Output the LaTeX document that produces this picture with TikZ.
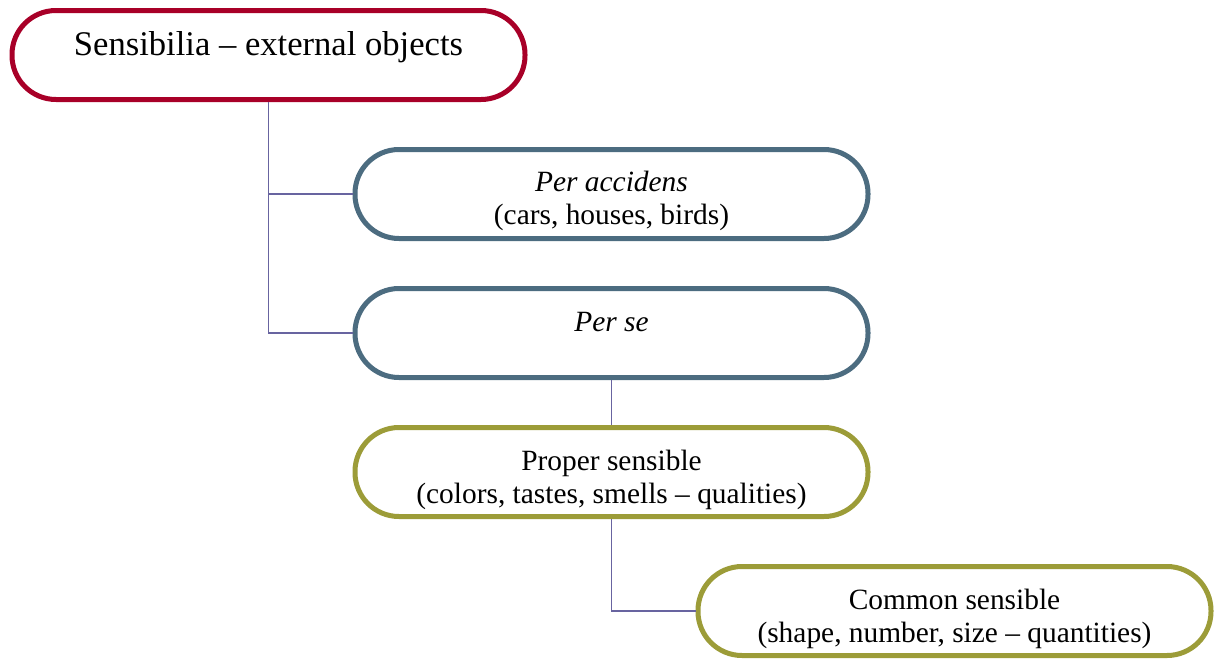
\documentclass[tikz,border=0pt]{standalone}
\usepackage{fontspec}
\setmainfont{Liberation Serif}
\usetikzlibrary{positioning}

\definecolor{sensred}{RGB}{168,0,40}
\definecolor{perblue}{RGB}{76,108,128}
\definecolor{sensolive}{RGB}{156,156,56}
\definecolor{linkviolet}{RGB}{104,100,160}

\begin{document}
\begin{tikzpicture}[x=0.5pt, y=-0.5pt,
                          node distance=22.5pt,
                          pillnode/.style={rectangle, draw, rounded corners=22pt, line width=2.5pt, minimum width=256.5pt, minimum height=44.5pt, fill=white, align=center, font={\fontsize{14.7}{16.5}\selectfont}},
                          topnode/.style={pillnode, draw=sensred, font={\fontsize{17.3}{20}\selectfont}, text height=12pt, text depth=12pt},
                          bluenode/.style={pillnode, draw=perblue},
                          olivenode/.style={pillnode, draw=sensolive},
                          link/.style={draw=linkviolet, line width=0.75pt},
                      ]
                      \useasboundingbox (0,0) rectangle (1221,659);

                      %Nodes
                      \node[topnode]      (sens)   at (268.5,55)                          {Sensibilia – external objects};
                      \node[bluenode]     (accidens)  [below=of sens, xshift=171.5pt]     {\rule{0pt}{17pt}\textit{Per accidens}\\(cars, houses, birds)};
                      \node[bluenode, text height=10pt, text depth=11.5pt]  (perse)  [below=of accidens]  {\textit{Per se}};
                      \node[olivenode]    (proper)    [below=of perse]                    {\rule{0pt}{18pt}Proper sensible\\(colors, tastes, smells – qualities)};
                      \node[olivenode]    (common)    [below=of proper, xshift=171.5pt]   {\rule{0pt}{18pt}Common sensible\\(shape, number, size – quantities)};

                      %Lines
                      \draw[link] (sens.south) |- (accidens.west);
                      \draw[link] (sens.south) |- (perse.west);
                      \draw[link] (perse.south) -- (proper.north);
                      \draw[link] (proper.south) |- (common.west);
                  \end{tikzpicture}
\end{document}
